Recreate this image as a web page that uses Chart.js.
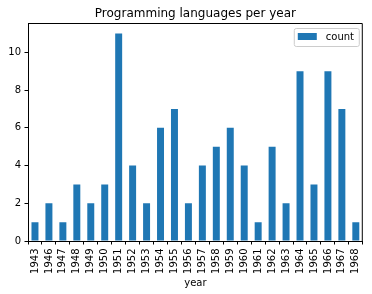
<!DOCTYPE html>
<html>
<head>
<meta charset="utf-8">
<script src="https://cdn.jsdelivr.net/npm/chart.js@4"></script>
<style>
html,body{margin:0;padding:0;background:#fff;}
canvas{display:block;}
</style>
</head>
<body>
<canvas id="c" width="372" height="294"></canvas>
<script>
const years = ['1943','1946','1947','1948','1949','1950','1951','1952','1953','1954','1955','1956','1957','1958','1959','1960','1961','1962','1963','1964','1965','1966','1967','1968'];
const counts = [1,2,1,3,2,3,11,4,2,6,7,2,4,5,6,4,1,5,2,9,3,9,7,1];
const seriesLabel = 'count';
const yTicks = [0,2,4,6,8,10];
const titleText = 'Programming languages per year';
const xTitle = 'year';

const FONT = 'DejaVu Sans';
const BLUE = '#1f77b4';

const framePlugin = {
  id: 'frame',
  afterDatasetsDraw(chart) {
    const {ctx, chartArea: a} = chart;
    ctx.save();
    ctx.strokeStyle = '#000';
    ctx.lineWidth = 1;
    ctx.beginPath();
    ctx.moveTo(a.left, a.top + 0.5);
    ctx.lineTo(a.right - 0.5, a.top + 0.5);
    ctx.lineTo(a.right - 0.5, a.bottom);
    ctx.stroke();
    // title centred over the axes
    ctx.fillStyle = '#000';
    ctx.font = '12px "' + FONT + '"';
    ctx.textAlign = 'center';
    ctx.textBaseline = 'alphabetic';
    ctx.fillText(titleText, (a.left + a.right) / 2, a.top - 6);
    // legend
    const x = a.right - 69, y = a.top + 5, w = 65, h = 18;
    ctx.fillStyle = 'rgba(255,255,255,0.8)';
    ctx.strokeStyle = '#cccccc';
    ctx.beginPath();
    ctx.roundRect(x + 0.5, y + 0.5, w, h, 2);
    ctx.fill();
    ctx.stroke();
    ctx.fillStyle = chart.data.datasets[0].backgroundColor;
    ctx.fillRect(x + 4, y + 5, 19, 7);
    ctx.fillStyle = '#000';
    ctx.font = '10px "' + FONT + '"';
    ctx.textBaseline = 'middle';
    ctx.textAlign = 'left';
    ctx.fillText(chart.data.datasets[0].label, x + 32, y + 9);
    ctx.restore();
  }
};

new Chart(document.getElementById('c'), {
  type: 'bar',
  data: {
    labels: years,
    datasets: [{
      label: seriesLabel,
      data: counts,
      backgroundColor: BLUE,
      borderWidth: 0,
      categoryPercentage: 1.0,
      barPercentage: 0.5
    }]
  },
  options: {
    responsive: false,
    animation: false,
    devicePixelRatio: 1,
    layout: {padding: {left: 0, right: 9, top: 23, bottom: 0}},
    plugins: {
      legend: {display: false},
      tooltip: {enabled: false},
      title: {display: false}
    },
    scales: {
      x: {
        grid: {display: true, drawOnChartArea: false, drawTicks: true, tickLength: 3.5, color: '#000'},
        border: {display: true, color: '#000', width: 1},
        ticks: {
          color: '#000',
          font: {family: FONT, size: 10},
          minRotation: 90, maxRotation: 90,
          autoSkip: false,
          padding: 4
        },
        title: {
          display: true,
          text: xTitle,
          color: '#000',
          font: {family: FONT, size: 10},
          padding: {top: 2, bottom: 5}
        },
        afterFit(s) { s.height = 53; }
      },
      y: {
        min: 0,
        max: 11.55,
        grid: {display: true, drawOnChartArea: false, drawTicks: true, tickLength: 3.5, color: '#000'},
        border: {display: true, color: '#000', width: 1},
        afterBuildTicks(s) { s.ticks = yTicks.map(v => ({value: v})); },
        ticks: {
          color: '#000',
          font: {family: FONT, size: 10},
          padding: 3.5,
          includeBounds: false
        },
        afterFit(s) { s.width = 28; }
      }
    }
  },
  plugins: [framePlugin]
});
</script>
</body>
</html>
